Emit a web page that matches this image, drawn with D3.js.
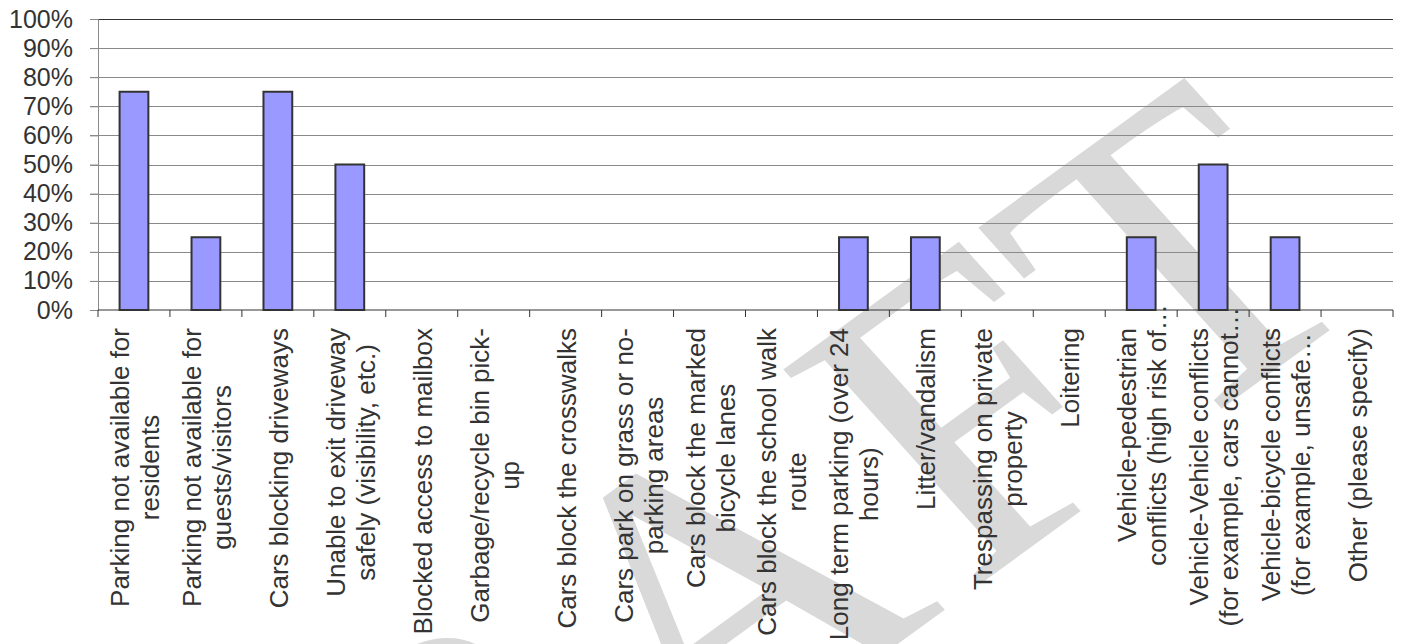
<!DOCTYPE html>
<html>
<head>
<meta charset="utf-8">
<script src="https://cdn.jsdelivr.net/npm/d3@7"></script>
<style>
  body { margin: 0; background: #fff; }
  svg { display: block; }
</style>
</head>
<body>
<div id="chart"></div>
<script>
// data
const categories = [
    ["Parking not available for", "residents"],
    ["Parking not available for", "guests/visitors"],
    ["Cars blocking driveways"],
    ["Unable to exit driveway", "safely (visibility, etc.)"],
    ["Blocked access to mailbox"],
    ["Garbage/recycle bin pick-", "up"],
    ["Cars block the crosswalks"],
    ["Cars park on grass or no-", "parking areas"],
    ["Cars block the marked", "bicycle lanes"],
    ["Cars block the school walk", "route"],
    ["Long term parking (over 24", "hours)"],
    ["Litter/vandalism"],
    ["Trespassing on private", "property"],
    ["Loitering"],
    ["Vehicle-pedestrian", "conflicts (high risk of…"],
    ["Vehicle-Vehicle conflicts", "(for example, cars cannot…"],
    ["Vehicle-bicycle conflicts", "(for example, unsafe…"],
    ["Other (please specify)"]
];
const values = [75, 25, 75, 50, 0, 0, 0, 0, 0, 0, 25, 25, 0, 0, 25, 50, 25, 0];
const yTicks = [0, 10, 20, 30, 40, 50, 60, 70, 80, 90, 100];
const watermark = ["DRA", "FT"];

const W = 1403, H = 644;
const margin = {top: 19, right: 10, bottom: 334, left: 98};

const svg = d3.select("#chart").append("svg")
    .attr("width", W)
    .attr("height", H);

// watermark behind the chart
const wm = svg.append("text")
    .attr("transform", "translate(1385,290) rotate(-36) skewX(6)")
    .attr("text-anchor", "end")
    .attr("font-family", "'Liberation Serif', 'DejaVu Serif', serif")
    .attr("font-size", 442)
    .attr("fill", "#d9d9d9");
wm.append("tspan").text(watermark[0]);
wm.append("tspan").attr("dx", 25).text(watermark[1]);

const x = d3.scaleBand()
    .domain(d3.range(categories.length))
    .range([margin.left, W - margin.right])
    .paddingInner(0.6)
    .paddingOuter(0.3);

const edge = d3.scaleLinear()
    .domain([0, categories.length])
    .range([margin.left, W - margin.right]);

const y = d3.scaleLinear()
    .domain([0, 100])
    .range([H - margin.bottom, margin.top]);

// gridlines
svg.append("g")
    .selectAll("line")
    .data(yTicks.filter(d => d > 0))
    .join("line")
        .attr("x1", margin.left - 8)
        .attr("x2", W - margin.right)
        .attr("y1", d => Math.round(y(d)) + 0.5)
        .attr("y2", d => Math.round(y(d)) + 0.5)
        .attr("stroke", d => d === 100 ? "#333" : "#8a8a8a")
        .attr("stroke-width", 1.2);

// y axis
svg.append("g")
    .attr("transform", `translate(${margin.left},0)`)
    .call(d3.axisLeft(y).tickValues(yTicks).tickSize(8).tickPadding(17).tickFormat(d => d + "%"))
    .call(g => g.select(".domain").attr("stroke", "#8a8a8a"))
    .call(g => g.selectAll(".tick line").attr("stroke", "#8a8a8a"))
    .call(g => g.selectAll("text")
        .attr("font-family", "'Liberation Sans', Arial, sans-serif")
        .attr("font-size", 25)
        .attr("fill", "#333"));

// bars
svg.append("g")
    .selectAll("rect")
    .data(values)
    .join("rect")
        .attr("x", (d, i) => x(i))
        .attr("y", d => y(d))
        .attr("width", x.bandwidth())
        .attr("height", d => y(0) - y(d))
        .attr("fill", "#9999ff")
        .attr("stroke", "#333")
        .attr("stroke-width", 2)
        .attr("display", d => d > 0 ? null : "none");

// x axis line and ticks at category edges
const xAxisG = svg.append("g");
xAxisG.append("line")
    .attr("x1", margin.left)
    .attr("x2", W - margin.right)
    .attr("y1", y(0))
    .attr("y2", y(0))
    .attr("stroke", "#333")
    .attr("stroke-width", 1.2);
xAxisG.selectAll(".xtick")
    .data(d3.range(categories.length + 1))
    .join("line")
        .attr("class", "xtick")
        .attr("x1", d => edge(d))
        .attr("x2", d => edge(d))
        .attr("y1", y(0))
        .attr("y2", y(0) + 7)
        .attr("stroke", "#333");

// rotated category labels, wrapped lines centred on each other
const labelTop = y(0) + 18;
const lineH = 30;
const labels = svg.append("g")
    .selectAll("g")
    .data(categories)
    .join("g")
        .attr("transform", (d, i) => `translate(${x(i) + x.bandwidth() / 2},${labelTop}) rotate(-90)`);

labels.each(function(lines) {
    const g = d3.select(this);
    const n = lines.length;
    const texts = g.selectAll("text")
        .data(lines)
        .join("text")
            .attr("font-family", "'Liberation Sans', Arial, sans-serif")
            .attr("font-size", 26)
            .attr("fill", "#333")
            .attr("text-anchor", "middle")
            .attr("y", (d, i) => 10 + (i - (n - 1) / 2) * lineH)
            .text(d => d);
    // truncated lines (…) overflow the box, so size it from the full lines
    let full = texts.filter(d => !d.endsWith("…")).nodes();
    if (!full.length) full = texts.nodes();
    const maxLen = d3.max(full, t => t.getComputedTextLength());
    texts.attr("x", -maxLen / 2);
});
</script>
</body>
</html>
